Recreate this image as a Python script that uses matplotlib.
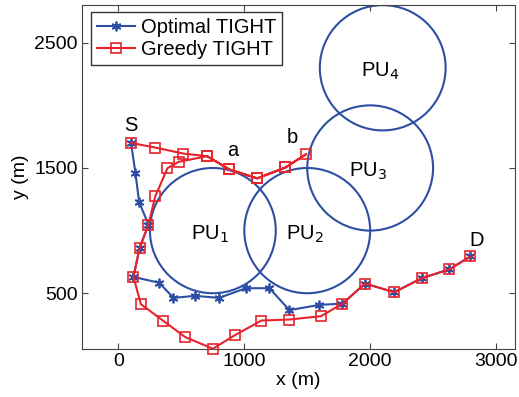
import numpy as np
import matplotlib.pyplot as plt
from matplotlib.patches import Circle

plt.rcParams["font.family"] = ["Liberation Sans", "DejaVu Sans"]

# optimal path (blue)
optX = [100, 135, 164, 238, 167, 119, 323, 437, 609, 800, 1012, 1200, 1358, 1597, 1780,
        1960, 2192, 2415, 2629, 2796]
optY = [1700, 1456, 1228, 1048, 858, 630, 584, 463, 479, 463, 540, 540, 365, 407, 417,
        577, 508, 622, 690, 794]

# greedy path (red), goes out to b and comes back
grdX = [100, 292, 516, 705, 882, 1102, 1327, 1491, 1327, 1102, 882, 705, 477, 389, 292,
        238, 167, 119, 178, 353, 530, 750, 927, 1136, 1358, 1610, 1780,
        1960, 2192, 2415, 2629, 2796]
grdY = [1700, 1663, 1615, 1594, 1488, 1417, 1504, 1610, 1504, 1417, 1488, 1594, 1549, 1498, 1273,
        1048, 858, 630, 412, 282, 150, 57, 166, 282, 290, 317, 417,
        577, 508, 622, 690, 794]

# primary users
puX = [750, 1500, 2000, 2100]
puY = [1000, 1000, 1500, 2300]
puR = [500, 500, 500, 500]
puNames = ["PU$_1$", "PU$_2$", "PU$_3$", "PU$_4$"]

pointNames = ["S", "a", "b", "D"]
pointX = [95, 910, 1380, 2850]
pointY = [1840, 1640, 1745, 920]

blue = "#2d4fa3"
red = "#e8232b"

fig = plt.figure(figsize=(5.19, 3.97), dpi=100)
ax = fig.add_axes([0.158, 0.121, 0.834, 0.866])

for cx, cy, r in zip(puX, puY, puR):
    ax.add_patch(Circle((cx, cy), r, fill=False, edgecolor=blue, linewidth=1.5))
for cx, cy, name in zip(puX, puY, puNames):
    ax.text(cx - 20, cy - 30, name, fontsize=14.5, ha="center", va="center")

ax.plot(optX, optY, color=blue, linewidth=1.5, marker=(6, 2, 0), markersize=7,
        markeredgewidth=1.3, label="Optimal TIGHT", clip_on=False, zorder=3)
ax.plot(grdX, grdY, color=red, linewidth=1.5, marker="s", markersize=7.5,
        markerfacecolor="none", markeredgewidth=1.2, label="Greedy TIGHT",
        clip_on=False, zorder=4)

for name, px, py in zip(pointNames, pointX, pointY):
    ax.text(px, py, name, fontsize=14.5, ha="center", va="center")

ax.set_xlim(-290, 3150)
ax.set_ylim(55, 2800)
ax.set_xticks([0, 1000, 2000, 3000])
ax.set_yticks([500, 1500, 2500])
ax.tick_params(direction="in", top=True, right=True, labelsize=14, length=4,
               color="#444444", pad=3)
for sp in ax.spines.values():
    sp.set_color("#444444")
ax.set_xlabel("x (m)", fontsize=14, labelpad=1)
ax.set_ylabel("y (m)", fontsize=14, labelpad=4)

leg = ax.legend(loc="upper left", fontsize=14.5, fancybox=False, edgecolor="#333333",
                framealpha=1, borderpad=0.3, handlelength=1.9, handletextpad=0.3,
                labelspacing=0.15, borderaxespad=0, bbox_to_anchor=(0.02, 0.98))
leg.get_frame().set_linewidth(1.0)

fig.savefig("out.png", dpi=100)
